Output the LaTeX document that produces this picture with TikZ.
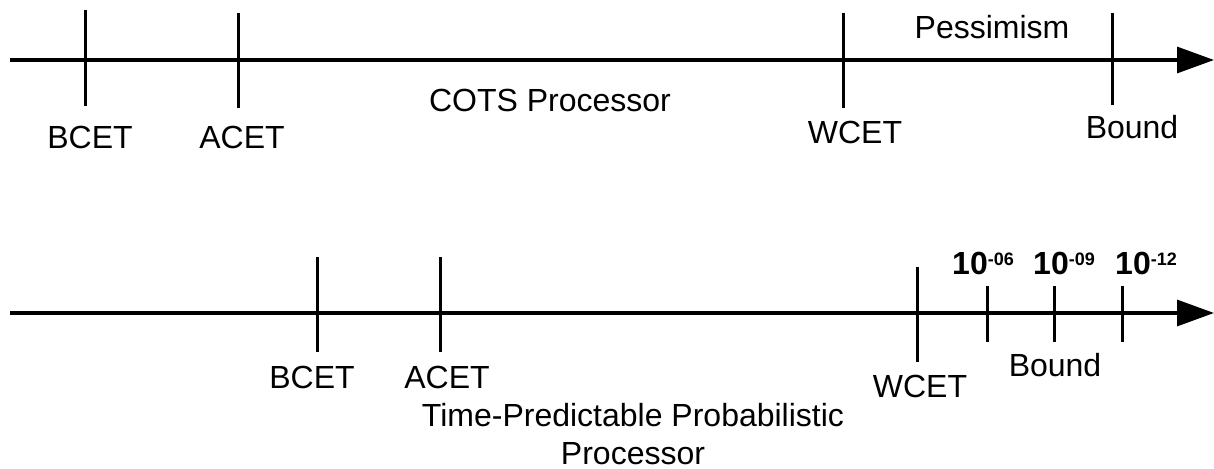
\documentclass[tikz,border=0pt]{standalone}
\usepackage{fontspec}
\setmainfont{Liberation Sans}
\usetikzlibrary{arrows.meta}
\newcommand{\probexp}[1]{10\raisebox{4.5pt}{\fontsize{9}{10}\selectfont\bfseries #1}}
\tikzset{
  axisline/.style={line width=1.6pt, -{Triangle[length=18.5pt,width=13pt]}},
  tickline/.style={line width=1.5pt},
  lbl/.style={inner sep=0pt, font=\fontsize{16}{19}\selectfont},
  prob/.style={inner sep=0pt, font=\fontsize{16}{18}\selectfont\bfseries},
}
\begin{document}
\begin{tikzpicture}[x=0.5pt, y=-0.5pt]
  \useasboundingbox (0,0) rectangle (1214,469);

  % ---- COTS processor time line ----
  \coordinate (a1s) at (10,60);
  \coordinate (a1e) at (1214,60);
  \draw[axisline] (a1s) -- (a1e);

  \coordinate (t1a) at (85,10);   \coordinate (t1b) at (85,106);
  \coordinate (t2a) at (238,13);  \coordinate (t2b) at (238,108);
  \coordinate (t3a) at (843,13);  \coordinate (t3b) at (843,108);
  \coordinate (t4a) at (1112,13); \coordinate (t4b) at (1112,105);
  \foreach \t in {t1,t2,t3,t4} \draw[tickline] (\t a) -- (\t b);

  \node[lbl] (bcet1) at (90,137) {BCET};
  \node[lbl] (acet1) at (242,137) {ACET};
  \node[lbl] (wcet1) at (855,132) {WCET};
  \node[lbl] (bound1) at (1132,127) {Bound};
  \node[lbl] (pess) at (992,27) {Pessimism};
  \node[lbl] (cots) at (550,100) {COTS Processor};

  % ---- Time-predictable probabilistic processor time line ----
  \coordinate (a2s) at (10,313);
  \coordinate (a2e) at (1214,313);
  \draw[axisline] (a2s) -- (a2e);

  \coordinate (u1a) at (317,257);  \coordinate (u1b) at (317,352);
  \coordinate (u2a) at (440,257);  \coordinate (u2b) at (440,352);
  \coordinate (u3a) at (917,267);  \coordinate (u3b) at (917,362);
  \coordinate (u4a) at (987,286);  \coordinate (u4b) at (987,342);
  \coordinate (u5a) at (1054,286); \coordinate (u5b) at (1054,342);
  \coordinate (u6a) at (1122,286); \coordinate (u6b) at (1122,342);
  \foreach \t in {u1,u2,u3,u4,u5,u6} \draw[tickline] (\t a) -- (\t b);

  \node[lbl] (bcet2) at (312,377) {BCET};
  \node[lbl] (acet2) at (447,377) {ACET};
  \node[lbl] (wcet2) at (920,386) {WCET};
  \node[lbl] (bound2) at (1055,365) {Bound};
  \node[prob] (p6) at (983,263) {\probexp{-06}};
  \node[prob] (p9) at (1064,263) {\probexp{-09}};
  \node[prob] (p12) at (1146,263) {\probexp{-12}};
  \node[lbl, align=center] (tpp) at (633,434)
    {Time-Predictable Probabilistic\\Processor};
\end{tikzpicture}
\end{document}
